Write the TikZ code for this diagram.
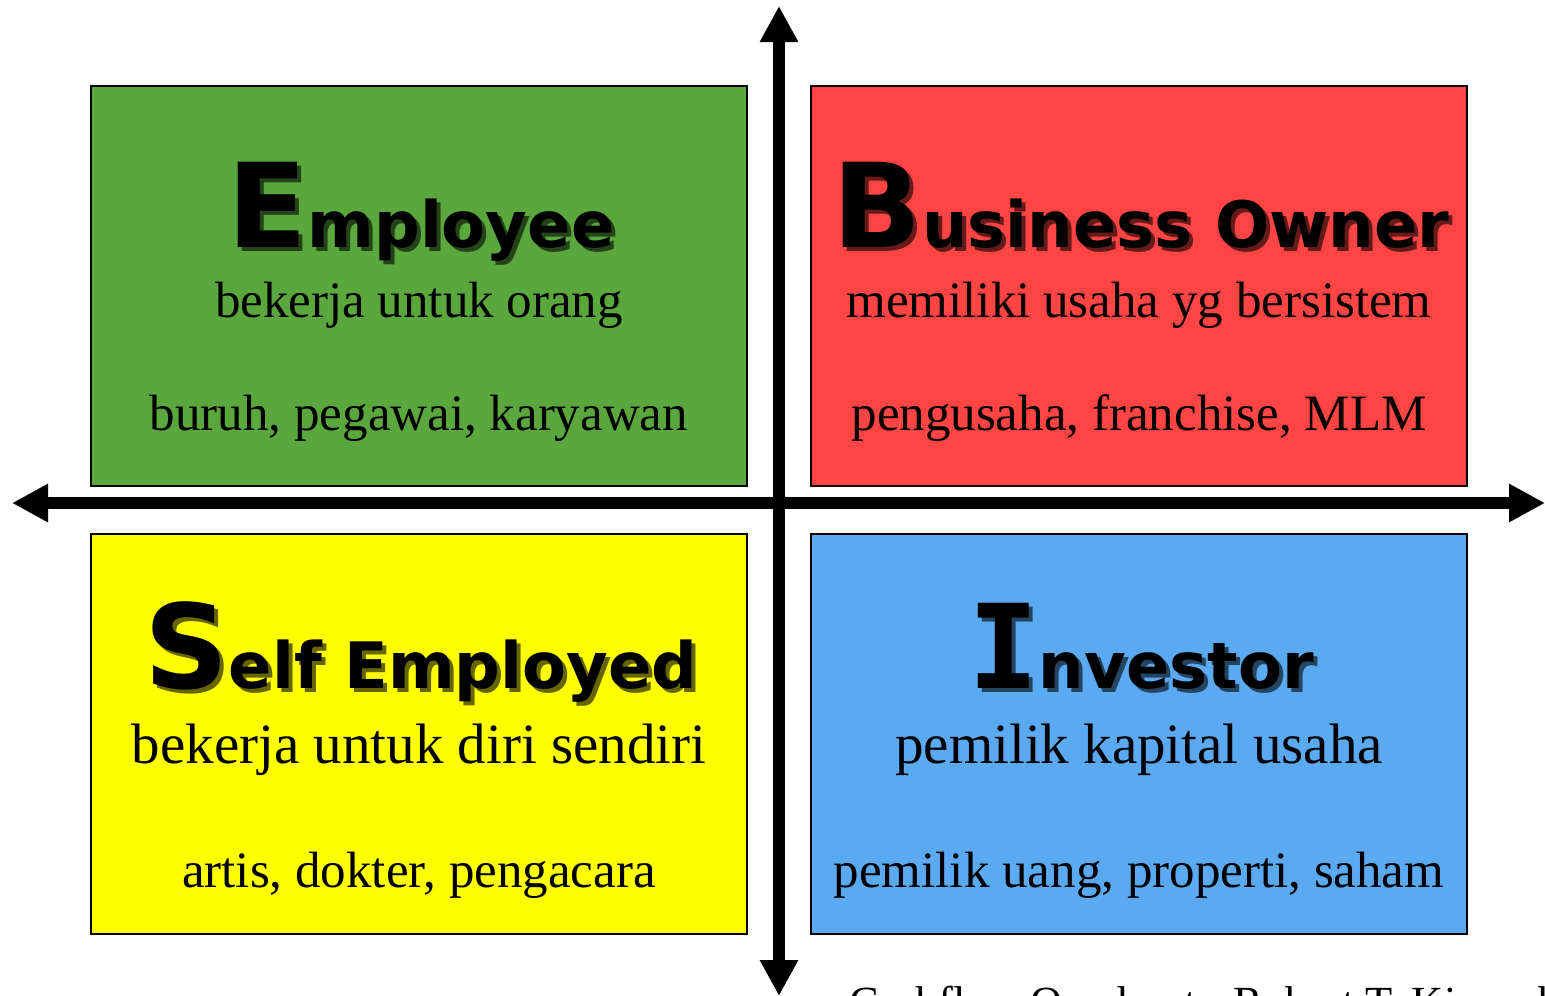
\documentclass[tikz,border=0pt]{standalone}
\usepackage{fontspec}
\setmainfont{Liberation Serif}
\newfontfamily\headfont{DejaVu Sans}
\newfontfamily\headmono{DejaVu Sans Mono}
\usetikzlibrary{arrows.meta}

\definecolor{empgreen}{RGB}{90,168,61}
\definecolor{bizred}{RGB}{255,68,68}
\definecolor{selfyellow}{RGB}{255,255,0}
\definecolor{invblue}{RGB}{91,169,241}

\newcommand{\quadhead}[2]{{\fontsize{117}{117}\selectfont #1}{\fontsize{64}{64}\selectfont #2}}
% title with a dark drop shadow behind it
\newcommand{\shadowhead}[3]{\rlap{\hspace{4pt}\raisebox{-4pt}{\color{#1!40!black}\quadhead{#2}{#3}}}\quadhead{#2}{#3}}

\begin{document}
\begin{tikzpicture}[x=1pt, y=-1pt,
quad/.style={draw=black, line width=2.5pt, minimum width=656pt, minimum height=400pt, inner sep=0pt},
axis/.style={line width=12pt, {Triangle[length=36pt, width=36pt]}-{Triangle[length=36pt, width=36pt]}},
head/.style={anchor=base, inner sep=0pt, font=\headfont\bfseries},
line/.style={anchor=base, inner sep=0pt, font=\fontsize{51}{51}\selectfont}]
\useasboundingbox (0,0) rectangle (1545,996);

%Quadrants
\node[quad, fill=empgreen] (empbox) at (419,286) {};
\node[quad, fill=bizred] (bizbox) at (1139,286) {};
\node[quad, fill=selfyellow] (selfbox) at (419,734) {};
\node[quad, fill=invblue] (invbox) at (1139,734) {};

%Axes
\coordinate (ytop) at (779,6);
\coordinate (ybot) at (779,996);
\coordinate (xleft) at (12,503);
\coordinate (xright) at (1545,503);
\draw[axis] (ybot) -- (ytop);
\draw[axis] (xleft) -- (xright);

%Employee
\node[head] (emp) at (421,247) {\shadowhead{empgreen}{E}{mployee}};
\node[line] (empwork) at (419,317) {bekerja untuk orang};
\node[line] (empjobs) at (419,430) {buruh, pegawai, karyawan};

%Business Owner
\node[head] (biz) at (1141,247) {\shadowhead{bizred}{B}{usiness Owner}};
\node[line] (bizwork) at (1139,317) {memiliki usaha yg bersistem};
\node[line] (bizjobs) at (1139,430) {pengusaha, franchise, MLM};

%Self Employed
\node[head] (self) at (421,688) {\shadowhead{selfyellow}{S}{elf Employed}};
\node[line, font=\fontsize{57}{57}\selectfont] (selfwork) at (419,763) {bekerja untuk diri sendiri};
\node[line] (selfjobs) at (419,887) {artis, dokter, pengacara};

%Investor
\node[head] (inv) at (1141,688) {\shadowhead{invblue}{\headmono I}{nvestor}};
\node[line, font=\fontsize{57}{57}\selectfont] (invwork) at (1139,763) {pemilik kapital usaha};
\node[line] (invjobs) at (1139,887) {pemilik uang, properti, saham};

%Source
\node[anchor=base west, inner sep=0pt, font=\fontsize{44.5}{44.5}\selectfont] (credit) at (849,1017) {Cashflow Quadrant - Robert T. Kiyosaki};
\end{tikzpicture}
\end{document}
